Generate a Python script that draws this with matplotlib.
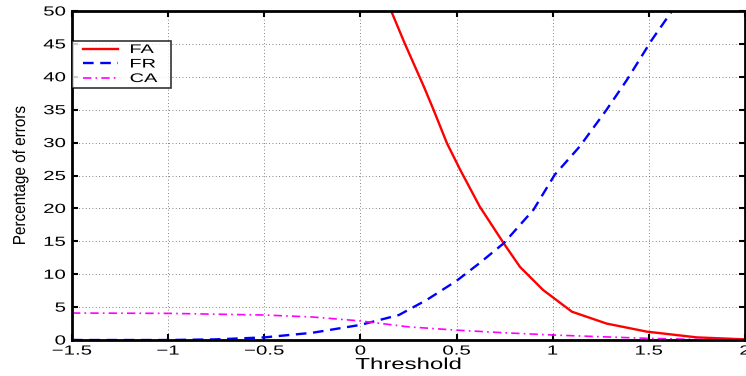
import matplotlib

matplotlib.use("Agg")

import matplotlib.pyplot as plt
from matplotlib import patheffects
from matplotlib.legend_handler import HandlerLine2D
from matplotlib.lines import Line2D
from matplotlib.transforms import Affine2D

# error curves vs. decision threshold
fa_threshold = [0.16, 0.23, 0.33, 0.38, 0.45, 0.52, 0.62, 0.745, 0.83, 0.95, 1.1, 1.28, 1.49, 1.75, 2.0]
fa_percent = [50.0, 45.1, 38.5, 35.0, 29.9, 25.8, 20.3, 14.7, 11.1, 7.6, 4.3, 2.5, 1.27, 0.4, 0.1]

fr_threshold = [-1.5, -1.0, -0.75, -0.5, -0.25, 0.0, 0.2, 0.345, 0.5, 0.62, 0.745, 0.9, 1.01, 1.14, 1.28, 1.385, 1.515, 1.62]
fr_percent = [0.0, 0.0, 0.1, 0.4, 1.1, 2.3, 3.8, 6.1, 9.0, 11.7, 14.7, 19.8, 25.1, 29.4, 35.0, 39.5, 45.6, 50.0]

ca_threshold = [-1.5, -1.0, -0.5, -0.25, 0.0, 0.25, 0.5, 0.75, 1.0, 1.25, 1.5, 1.75, 2.0]
ca_percent = [4.1, 4.05, 3.8, 3.5, 2.9, 2.0, 1.5, 1.1, 0.76, 0.5, 0.25, 0.1, 0.05]

x_ticks = [-1.5, -1, -0.5, 0, 0.5, 1, 1.5, 2]
x_tick_labels = ["\u22121.5", "\u22121", "\u22120.5", "0", "0.5", "1", "1.5", "2"]
y_ticks = list(range(0, 51, 5))


class Stretch(patheffects.AbstractPathEffect):
    """Scale glyphs along the text direction around a left/center/right anchor."""

    def __init__(self, sx=1.0, sy=1.0, anchor="center"):
        super().__init__()
        self.sx = sx
        self.sy = sy
        self.anchor = anchor

    def draw_path(self, renderer, gc, tpath, affine, rgbFace=None):
        ext = tpath.get_extents()
        x0 = {"left": ext.x0, "center": 0.5 * (ext.x0 + ext.x1), "right": ext.x1}[self.anchor]
        y0 = 0.5 * (ext.y0 + ext.y1)
        stretch = Affine2D().translate(-x0, -y0).scale(self.sx, self.sy).translate(x0, y0)
        renderer.draw_path(gc, tpath, stretch + affine, rgbFace)


plt.rcParams["font.family"] = ["Liberation Sans", "DejaVu Sans"]

fig = plt.figure(figsize=(7.46, 3.76), dpi=100)
ax = fig.add_axes([0.0965, 0.0957, 0.9022, 0.875])

ax.plot(fa_threshold, fa_percent, color="#ff0000", lw=1.7, label="FA")
ax.plot(fr_threshold, fr_percent, color="#0000ff", lw=1.7, linestyle=(0, (4.5, 2.8)), label="FR")
ax.plot(ca_threshold, ca_percent, color="#ff00ff", lw=1.2, linestyle=(0, (5, 2.5, 1, 2.5)), label="CA")

ax.set_xlim(-1.5, 2)
ax.set_ylim(0, 50)
ax.set_xticks(x_ticks)
ax.set_xticklabels(x_tick_labels)
ax.set_yticks(y_ticks)

ax.grid(True, color="0.35", linestyle=(0, (1, 3)), linewidth=0.6)
ax.tick_params(direction="in", top=True, right=True, length=4, width=1.5,
               labelsize=9.5)
ax.tick_params(axis="x", pad=4)
ax.tick_params(axis="y", pad=4.5)
for spine in ax.spines.values():
    spine.set_linewidth(2)

for lbl in ax.get_xticklabels():
    lbl.set_path_effects([Stretch(1.55, anchor="center")])
for lbl in ax.get_yticklabels():
    lbl.set_path_effects([Stretch(1.55, anchor="right")])

ax.set_xlabel("Threshold", fontsize=11.5)
ax.xaxis.set_label_coords(0.5, -0.0517)
ax.xaxis.label.set_path_effects([Stretch(1.5, anchor="center")])
ax.set_ylabel("Percentage of errors", fontsize=12.5)
ax.yaxis.set_label_coords(-0.0654, 0.5)
ax.yaxis.label.set_path_effects([Stretch(0.88, anchor="center")])

leg = ax.legend(loc="upper left", bbox_to_anchor=(0.0, 0.5, 0.1478, 0.4088), mode="expand",
                fontsize=9, frameon=True, fancybox=False, borderpad=0.24, labelspacing=0.2,
                handlelength=3.44, handletextpad=0.96, borderaxespad=0,
                handler_map={Line2D: HandlerLine2D(xpad=0.64)})
leg.get_frame().set_edgecolor("black")
leg.get_frame().set_linewidth(1.2)
for txt in leg.get_texts():
    txt.set_path_effects([Stretch(1.6, anchor="left")])

fig.savefig("out.png", dpi=100)
